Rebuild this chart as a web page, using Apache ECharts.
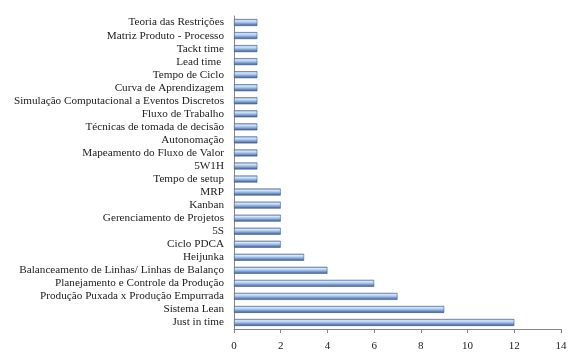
<!DOCTYPE html>
<html><head><meta charset="utf-8">
<script src="https://cdn.jsdelivr.net/npm/echarts@6/dist/echarts.min.js"></script>
<style>html,body{margin:0;padding:0;background:#fff}#c{width:582px;height:358px}</style>
</head><body><div id="c"></div>
<script>
const categories = [
  "Just in time",
  "Sistema Lean",
  "Produção Puxada x Produção Empurrada",
  "Planejamento e Controle da Produção",
  "Balanceamento de Linhas/ Linhas de Balanço",
  "Heijunka",
  "Ciclo PDCA",
  "5S",
  "Gerenciamento de Projetos",
  "Kanban",
  "MRP",
  "Tempo de setup",
  "5W1H",
  "Mapeamento do Fluxo de Valor",
  "Autonomação",
  "Técnicas de tomada de decisão",
  "Fluxo de Trabalho",
  "Simulação Computacional a Eventos Discretos",
  "Curva de Aprendizagem",
  "Tempo de Ciclo",
  "Lead time ",
  "Tackt time",
  "Matriz Produto - Processo",
  "Teoria das Restrições"
];
const values = [12, 9, 7, 6, 4, 3, 2, 2, 2, 2, 2, 1, 1, 1, 1, 1, 1, 1, 1, 1, 1, 1, 1, 1];
const xTicks = [0, 2, 4, 6, 8, 10, 12, 14];

const chart = echarts.init(document.getElementById('c'), null, {renderer: 'canvas'});
const font = '"Liberation Serif", "DejaVu Serif", serif';
chart.setOption({
  animation: false,
  grid: {left: 234, right: 21, top: 16, bottom: 29, containLabel: false},
  xAxis: {
    type: 'value', min: xTicks[0], max: xTicks[xTicks.length - 1], interval: 2,
    axisLine: {show: true, lineStyle: {color: '#868686'}},
    axisTick: {show: true, length: 4, lineStyle: {color: '#868686'}},
    splitLine: {show: false},
    axisLabel: {color: '#222', fontFamily: font, fontSize: 11, margin: 12}
  },
  yAxis: {
    type: 'category', data: categories,
    axisLine: {show: true, lineStyle: {color: '#868686'}},
    axisTick: {show: false},
    axisLabel: {color: '#222', fontFamily: font, fontSize: 11.2, margin: 10, interval: 0}
  },
  series: [{
    type: 'bar', data: values, barWidth: 7,
    itemStyle: {
      color: new echarts.graphic.LinearGradient(0, 0, 0, 1, [
        {offset: 0, color: '#7d9ac4'},
        {offset: 0.25, color: '#d6e8fd'},
        {offset: 0.5, color: '#a3c0ea'},
        {offset: 1, color: '#3a5582'}
      ]),
      borderColor: '#455f8a', borderWidth: 0.6
    }
  }]
});
</script></body></html>
